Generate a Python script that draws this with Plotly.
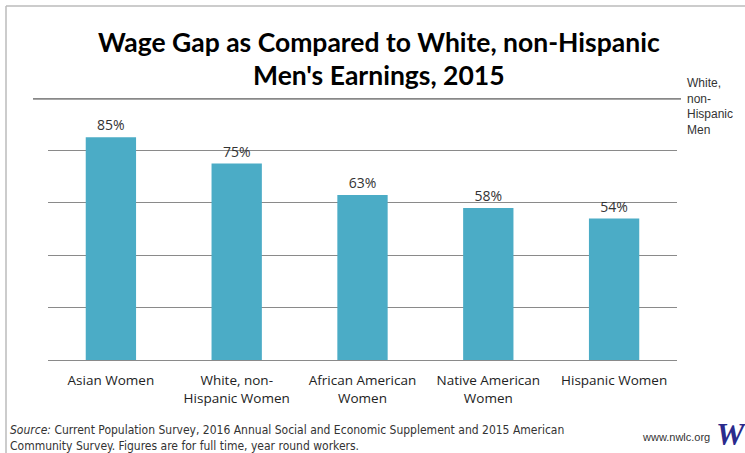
import plotly.graph_objects as go

categories = ["Asian Women", "White, non-<br>Hispanic Women", "African American<br>Women",
              "Native American<br>Women", "Hispanic Women"]
values = [85, 75, 63, 58, 54]
value_labels = ["85%", "75%", "63%", "58%", "54%"]
reference_value = 100
reference_label = "White,<br>non-<br>Hispanic<br>Men"

W, H = 745, 453
L, R, T, B = 48, 68, 98, 93
pw = W - L - R
ph = H - T - B

def px(x):
    return (x - L) / pw

def py(y):
    return (H - B - y) / ph

fig = go.Figure()
fig.add_trace(go.Bar(
    x=categories, y=values, text=value_labels, textposition="outside",
    textfont=dict(family="Open Sans", size=14, color="#333333"),
    marker=dict(color="#4BACC6", line=dict(width=0)),
    width=0.4, cliponaxis=False, hoverinfo="skip",
))

fig.update_layout(
    width=W, height=H, margin=dict(l=L, r=R, t=T, b=B),
    paper_bgcolor="white", plot_bgcolor="white", showlegend=False,
    bargap=0.6, uniformtext=dict(mode=False),
    xaxis=dict(showgrid=False, showline=True, linecolor="#8a8a8a", linewidth=1,
               ticks="", ticklabelstandoff=8,
               tickfont=dict(family="Open Sans", size=13.5, color="#222222"),
               range=[-0.5, 4.5], fixedrange=True),
    yaxis=dict(range=[0, 100], dtick=20, showgrid=True, gridcolor="#8a8a8a", gridwidth=1,
               showticklabels=False, zeroline=False, showline=False, fixedrange=True),
)

# thick reference line at 100%
fig.add_shape(type="line", xref="paper", yref="y", x0=px(33), x1=px(681),
              y0=reference_value, y1=reference_value, line=dict(color="#888888", width=3.5))
fig.add_annotation(xref="paper", yref="paper", x=px(685), y=py(74), xanchor="left", yanchor="top",
                   text=reference_label, showarrow=False, align="left",
                   font=dict(family="Liberation Sans", size=12, color="#333333"))

# border
fig.add_shape(type="line", xref="paper", yref="paper", x0=px(6), x1=px(6), y0=py(6), y1=py(453),
              line=dict(color="#bbbbbb", width=1.5))
fig.add_shape(type="line", xref="paper", yref="paper", x0=px(6), x1=px(745), y0=py(6), y1=py(6),
              line=dict(color="#bbbbbb", width=1.5))

# title
fig.add_annotation(xref="paper", yref="paper", x=px(379), y=py(42), xanchor="center", yanchor="middle",
                   text="<b>Wage Gap as Compared to White, non-Hispanic</b>", showarrow=False,
                   font=dict(family="Lato", size=26.5, color="#000000"))
fig.add_annotation(xref="paper", yref="paper", x=px(379), y=py(75), xanchor="center", yanchor="middle",
                   text="<b>Men's Earnings, 2015</b>", showarrow=False,
                   font=dict(family="Lato", size=26.5, color="#000000"))

# source
fig.add_annotation(xref="paper", yref="paper", x=px(8), y=py(438), xanchor="left", yanchor="middle",
                   text="<i>Source:</i> Current Population Survey, 2016 Annual Social and Economic Supplement and 2015 American<br>Community Survey. Figures are for full time, year round workers.",
                   showarrow=False, align="left",
                   font=dict(family="Liberation Sans Narrow, Arial Narrow, DejaVu Sans Condensed, sans-serif",
                             size=12, color="#333333"))
fig.add_annotation(xref="paper", yref="paper", x=px(712), y=py(437), xanchor="right", yanchor="middle",
                   text="www.nwlc.org", showarrow=False,
                   font=dict(family="Liberation Sans", size=11, color="#333333"))
fig.add_annotation(xref="paper", yref="paper", x=px(731), y=py(434), xanchor="center", yanchor="middle",
                   text="<b><i>W</i></b>", showarrow=False,
                   font=dict(family="Liberation Serif", size=32, color="#2a2a8c"))

fig.write_html("out.html", config={"displayModeBar": False},
               post_script="document.body.style.margin='0';")
